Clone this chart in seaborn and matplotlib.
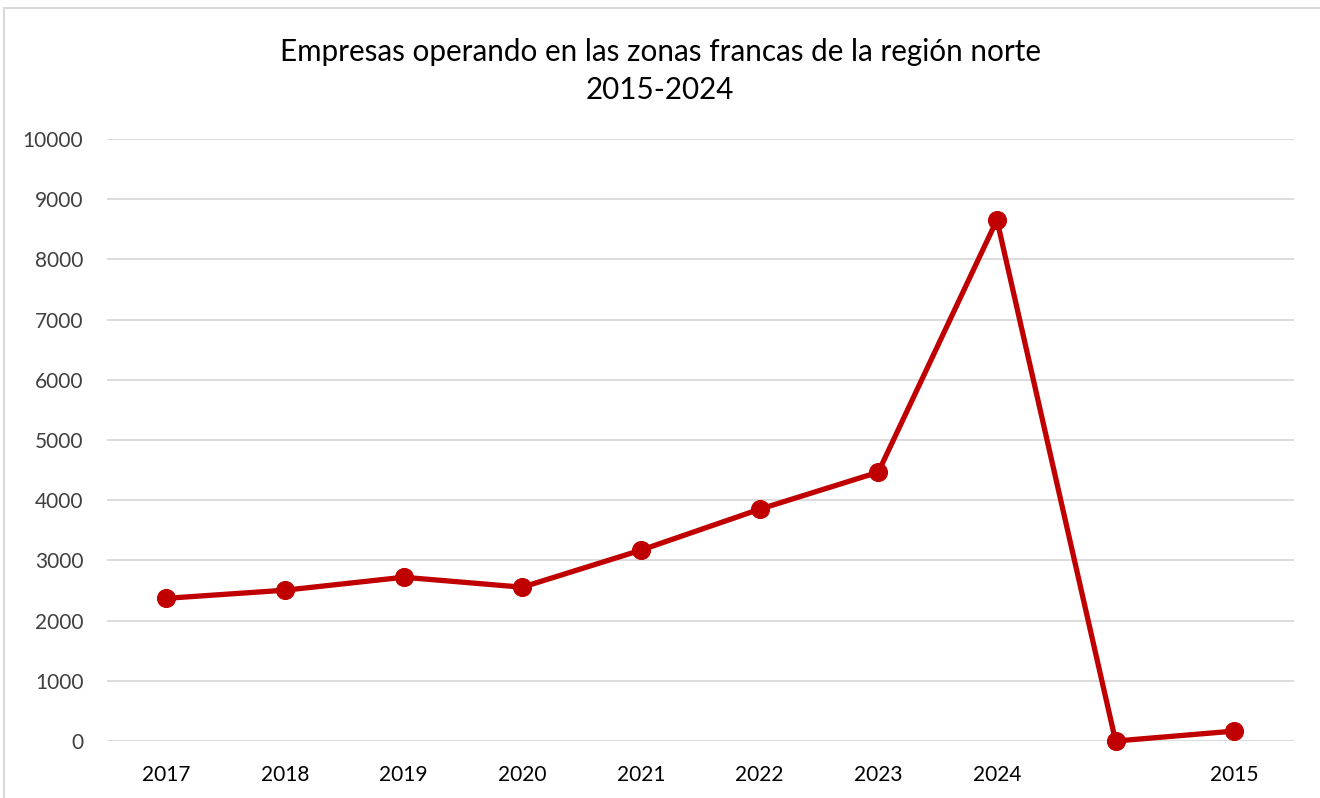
import numpy as np
import pandas as pd
import seaborn as sns
import matplotlib.pyplot as plt
from matplotlib.patches import Rectangle

categories = ["2017", "2018", "2019", "2020", "2021", "2022", "2023", "2024", "", "2015"]
empresas = [2370, 2505, 2720, 2555, 3170, 3850, 4465, 8655, 0, 165]
y_ticks = list(range(0, 10001, 1000))

df = pd.DataFrame({"pos": np.arange(len(categories)), "empresas": empresas})

sns.set_theme(style="white")
plt.rcParams["font.family"] = ["Lato", "DejaVu Sans"]

fig = plt.figure(figsize=(13.2, 7.98), dpi=100)
ax = fig.add_axes([0.081, 0.0714, 0.899, 0.7545])

sns.lineplot(data=df, x="pos", y="empresas", ax=ax, color="#C00000",
             linewidth=3.8, marker="o", markersize=13,
             markeredgecolor="#C00000", markerfacecolor="#C00000")
for ln in ax.lines:
    ln.set_clip_on(False)

ax.set_xlim(-0.5, len(categories) - 0.5)
ax.set_ylim(0, 10000)
ax.set_yticks(y_ticks)
ax.set_yticklabels([str(t) for t in y_ticks], fontsize=15, color="#404040")
ax.set_xticks(df["pos"])
ax.set_xticklabels(categories, fontsize=15, color="#000000")
ax.tick_params(axis="x", length=0, pad=17)
ax.tick_params(axis="y", length=0, pad=17)
ax.yaxis.grid(True, color="#D9D9D9", linewidth=1.3)
ax.set_axisbelow(True)
for s in ax.spines.values():
    s.set_visible(False)
ax.set_xlabel("")
ax.set_ylabel("")

fig.text(0.5, 0.911, "Empresas operando en las zonas francas de la región norte\n2015-2024",
         ha="center", va="center", fontsize=21.3, linespacing=1.4, color="#000000")

fig.patches.append(Rectangle((0.003, -0.01), 1.0, 1.0, transform=fig.transFigure,
                             fill=False, edgecolor="#D9D9D9", linewidth=1.5))

fig.savefig("out.png", dpi=100)
